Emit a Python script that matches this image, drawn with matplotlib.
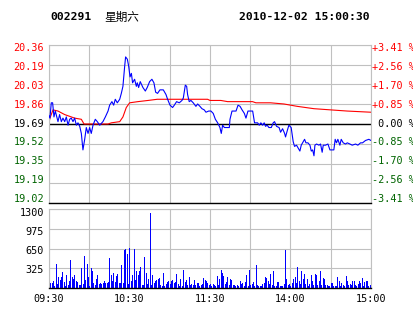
import matplotlib
matplotlib.use('Agg')
import matplotlib.pyplot as plt

# quote header
code = '002291'
weekday = '星期六'
stamp = '2010-12-02 15:00:30'
pre_close = 19.69

# intraday price (minute index from 09:30, price)
price_min = [0, 0.7, 1.7, 2.7, 3.7, 4.7, 6.7, 7.9, 9.2, 10.4, 11.7, 12.9, 14.2, 15.4, 16.6,
             17.9, 19.1, 20.4, 21.6, 22.9, 24.1, 25.3, 26.6, 27.8, 29.1, 30.3, 31.5, 32.8,
             34.5, 36.0, 37.8, 40.2, 42.0, 44.0, 45.2, 46.9, 48.2, 49.4, 50.9, 52.7, 53.9,
             55.1, 56.4, 57.1, 58.4, 59.4, 60.4, 61.4, 62.3, 63.8, 65.1, 65.8, 66.8, 68.0,
             70.0, 71.8, 73.2, 75.0, 76.7, 78.2, 79.5, 80.9, 82.7, 85.2, 87.2, 88.4, 90.2,
             92.1, 93.4, 95.1, 97.1, 99.1, 100.1, 101.6, 102.6, 103.3, 104.5, 105.8, 107.5,
             109.5, 110.8, 112.5, 114.0, 115.7, 117.0, 119.0, 120.7, 122.4, 124.0, 125.7,
             127.4, 128.4, 129.4, 130.7, 134.4, 134.9, 136.4, 139.4, 140.9, 142.4, 143.9,
             145.6, 146.8, 148.3, 151.8, 153.2, 155.5, 156.7, 157.9, 159.2, 160.4, 161.4,
             162.6, 163.9, 165.7, 167.1, 168.1, 169.6, 171.5, 172.6, 174.1, 175.6, 176.3,
             177.5, 178.8, 180.5, 182.0, 183.0, 184.5, 185.5, 187.0, 188.0, 189.5, 190.5,
             191.5, 193.0, 194.5, 195.5, 196.5, 197.5, 198.2, 199.4, 201.2, 202.4, 203.6,
             204.4, 206.1, 207.9, 209.4, 212.3, 213.3, 214.3, 215.3, 216.8, 217.8, 219.3,
             221.0, 222.3, 224.3, 226.0, 228.5, 230.2, 232.2, 233.7, 235.9, 238.4, 240]
price = [19.76, 19.74, 19.87, 19.87, 19.75, 19.80, 19.71, 19.77, 19.71, 19.74, 19.71, 19.75,
         19.68, 19.73, 19.74, 19.71, 19.74, 19.68, 19.70, 19.67, 19.61, 19.47, 19.56, 19.66,
         19.61, 19.66, 19.61, 19.68, 19.73, 19.71, 19.68, 19.71, 19.75, 19.80, 19.85, 19.88,
         19.85, 19.90, 19.87, 19.90, 19.95, 20.01, 20.18, 20.26, 20.24, 20.18, 20.09, 20.12,
         20.04, 20.07, 20.01, 20.04, 20.00, 20.05, 20.00, 19.97, 20.00, 20.05, 20.07, 20.04,
         19.96, 19.95, 19.98, 19.98, 19.94, 19.90, 19.85, 19.83, 19.85, 19.88, 19.87, 19.89,
         19.91, 20.02, 20.01, 19.94, 19.88, 19.89, 19.87, 19.84, 19.86, 19.84, 19.82, 19.81,
         19.79, 19.80, 19.80, 19.78, 19.73, 19.70, 19.66, 19.61, 19.68, 19.66, 19.66, 19.73,
         19.80, 19.80, 19.85, 19.84, 19.81, 19.78, 19.74, 19.80, 19.80, 19.70, 19.70, 19.68,
         19.70, 19.68, 19.70, 19.67, 19.68, 19.66, 19.66, 19.70, 19.71, 19.67, 19.66, 19.62,
         19.65, 19.61, 19.58, 19.63, 19.68, 19.66, 19.54, 19.50, 19.51, 19.49, 19.46, 19.51,
         19.54, 19.56, 19.53, 19.53, 19.51, 19.46, 19.47, 19.42, 19.51, 19.52, 19.51, 19.52,
         19.45, 19.51, 19.51, 19.52, 19.47, 19.47, 19.56, 19.53, 19.56, 19.51, 19.56, 19.53,
         19.52, 19.53, 19.52, 19.51, 19.52, 19.51, 19.53, 19.53, 19.55, 19.56, 19.55]

# average price line
avg_min = [0, 0.7, 3, 6.7, 11.7, 19.1, 24.1, 26.1, 44, 46.5, 52.7, 55.1, 57.6, 60.1, 66.3,
           73.8, 80.7, 118.2, 120, 128.1, 133.1, 151.7, 154.2, 165.1, 175.1, 185, 197.5,
           209.9, 222.3, 240]
avg_price = [19.70, 19.74, 19.81, 19.80, 19.77, 19.74, 19.73, 19.69, 19.69, 19.70, 19.71,
             19.75, 19.83, 19.87, 19.88, 19.89, 19.90, 19.90, 19.89, 19.89, 19.88, 19.88,
             19.87, 19.87, 19.86, 19.84, 19.82, 19.81, 19.80, 19.79]

# volume per minute (lots)
volume = [80, 80, 82, 110, 38, 395, 71, 187, 137, 187, 264, 99, 33, 220, 55, 121, 467, 187, 154, 220,
          121, 99, 55, 55, 335, 66, 532, 137, 401, 187, 38, 330, 285, 82, 44, 154, 220, 66, 82, 66,
          77, 121, 77, 77, 99, 500, 209, 110, 247, 99, 192, 236, 88, 77, 385, 82, 632, 648, 560, 66,
          659, 121, 220, 643, 137, 285, 220, 275, 352, 44, 55, 505, 253, 66, 154, 1230, 55, 220, 82, 121,
          137, 154, 165, 55, 38, 247, 38, 66, 93, 110, 66, 121, 137, 77, 93, 231, 66, 38, 154, 38,
          302, 93, 137, 55, 187, 55, 66, 55, 132, 55, 77, 88, 38, 55, 66, 165, 132, 110, 77, 44,
          66, 38, 66, 55, 38, 203, 44, 154, 302, 247, 203, 66, 93, 187, 55, 154, 132, 55, 55, 38,
          55, 38, 110, 66, 77, 38, 93, 220, 38, 302, 55, 66, 93, 38, 384, 55, 38, 38, 38, 66,
          88, 176, 165, 110, 66, 236, 55, 275, 38, 38, 99, 99, 38, 38, 38, 66, 631, 154, 55, 66,
          38, 77, 154, 187, 77, 351, 121, 66, 275, 154, 236, 66, 154, 38, 66, 209, 121, 55, 236, 220,
          55, 110, 285, 55, 165, 154, 55, 55, 38, 38, 82, 82, 38, 38, 38, 187, 121, 38, 82, 55,
          38, 203, 121, 55, 66, 55, 110, 110, 55, 38, 66, 121, 77, 165, 38, 99, 110, 121, 38, 55,
          253]

price_ticks = [19.02, 19.19, 19.35, 19.52, 19.69, 19.86, 20.03, 20.19, 20.36]
price_labels = ['19.02', '19.19', '19.35', '19.52', '19.69', '19.86', '20.03', '20.19', '20.36']
pct_labels = ['-3.41 %', '-2.56 %', '-1.70 %', '-0.85 %', ' 0.00 %',
              '+0.85 %', '+1.70 %', '+2.56 %', '+3.41 %']
vol_ticks = [325, 650, 975, 1300]
vol_labels = ['325', '650', '975', '1300']
time_pos = [0, 60, 120, 180, 240]
time_labels = ['09:30', '10:30', '11:30', '14:00', '15:00']

W, H = 414, 314
mono = 'DejaVu Sans Mono'
fs = 7.3
grid_c = '#c0c0c0'
red, green, blue = '#ff0000', '#006400', '#0000ff'

fig = plt.figure(figsize=(W / 100, H / 100), dpi=100)
fig.patch.set_facecolor('white')

ax = fig.add_axes([49 / W, 1 - 203 / H, 322 / W, 158 / H])
axv = fig.add_axes([49 / W, 1 - 288 / H, 322 / W, 79 / H])

for a in (ax, axv):
    a.set_xlim(0, 240)
    a.set_xticks(range(0, 241, 30))
    a.set_xticklabels([])
    a.grid(True, color=grid_c, linewidth=0.8)
    a.set_axisbelow(True)
    a.tick_params(length=0)
    for s in ('top', 'left', 'right'):
        a.spines[s].set_color(grid_c)
        a.spines[s].set_linewidth(0.8)
    a.spines['bottom'].set_color('black')
    a.spines['bottom'].set_linewidth(1.0)


def tick_color(v):
    if v > pre_close:
        return red
    if v < pre_close:
        return green
    return 'black'


# price panel (labels sit slightly inside the grid span, like the original applet)
ax.set_ylim(19.019, 20.361)
ax.set_yticks(price_ticks)
ax.set_yticklabels([])
ax.axhline(pre_close, color='black', linewidth=1.0, zorder=1.5)
ax.plot(avg_min, avg_price, color=red, linewidth=0.8, zorder=2)
ax.plot(price_min, price, color=blue, linewidth=0.8, zorder=3)
for i, (v, lab, pct) in enumerate(zip(price_ticks, price_labels, pct_labels)):
    yf = 0.023 + i * 0.12
    ax.text(-5 / 322, yf, lab, transform=ax.transAxes, ha='right', va='center',
            fontfamily=mono, fontsize=fs, color=tick_color(v))
    ax.text(1 + 1 / 322, yf, pct, transform=ax.transAxes, ha='left', va='center',
            fontfamily=mono, fontsize=fs, color=tick_color(v))

# volume panel: one 1px blue stick per minute
axv.vlines(range(len(volume)), 0, volume, colors=blue, linewidth=0.55,
           antialiased=False, zorder=2)
axv.set_ylim(0, 1300)
axv.set_yticks(vol_ticks)
axv.set_yticklabels([])
for i, lab in enumerate(vol_labels):
    axv.text(-5 / 322, 0.228 + i * 0.239, lab, transform=axv.transAxes, ha='right',
             va='center', fontfamily=mono, fontsize=fs)
for p, lab in zip(time_pos, time_labels):
    axv.text(p, -0.07, lab, transform=axv.get_xaxis_transform(), ha='center', va='top',
             fontfamily=mono, fontsize=fs)

# header
fig.text(50 / W, 1 - 17 / H, code, fontfamily=mono, fontweight='bold', fontsize=8.2, va='center')
fig.text(104 / W, 1 - 17 / H, weekday, fontfamily=['Noto Sans CJK SC', 'DejaVu Sans'],
         fontsize=8.4, va='center')
fig.text(370 / W, 1 - 17 / H, stamp, fontfamily=mono, fontweight='bold', fontsize=8.2,
         va='center', ha='right')

fig.savefig('out.png', dpi=100)
